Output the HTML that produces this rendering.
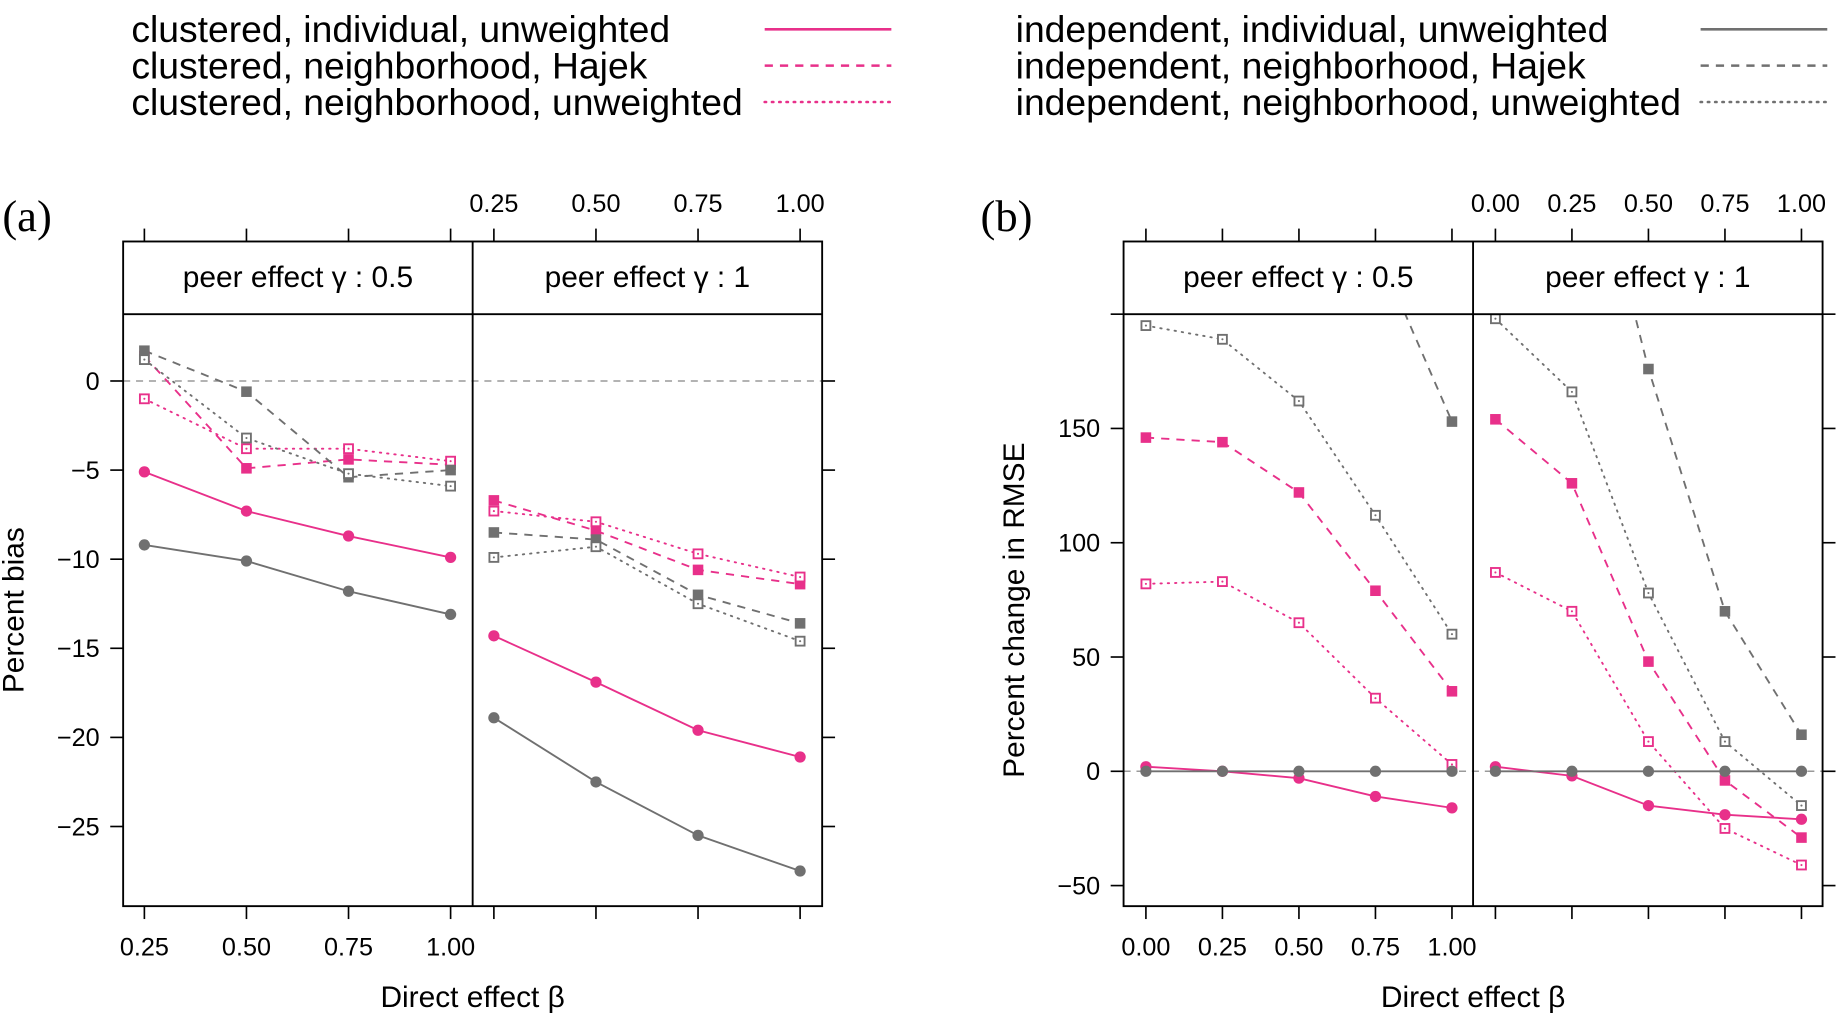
<!DOCTYPE html>
<html><head><meta charset="utf-8">
<style>
html,body{margin:0;padding:0;background:#fff;}
svg{display:block;}
text{font-family:"Liberation Sans",sans-serif;fill:#000;}
</style></head>
<body>
<svg id="fig" width="1839" height="1014" viewBox="0 0 1568 865" preserveAspectRatio="none" xmlns="http://www.w3.org/2000/svg">
<g id="legend"></g>
<g id="pa"></g>
<g id="pb"></g>
</svg>
<script>
// ---- data ----
const seriesNames = ["clustered, individual, unweighted","clustered, neighborhood, Hajek","clustered, neighborhood, unweighted","independent, individual, unweighted","independent, neighborhood, Hajek","independent, neighborhood, unweighted"];
const xA = [0.25,0.5,0.75,1.0];
const xB = [0,0.25,0.5,0.75,1.0];
const tickA = ["0.25","0.50","0.75","1.00"];
const tickB = ["0.00","0.25","0.50","0.75","1.00"];
const yTicksA = [0,-5,-10,-15,-20,-25];
const yTicksB = [200,150,100,50,0,-50];
// bias, gamma 0.5
const biasG05_clInd = [-5.1,-7.3,-8.7,-9.9];
const biasG05_clHaj = [1.4,-4.9,-4.4,-4.7];
const biasG05_clUnw = [-1.0,-3.8,-3.8,-4.5];
const biasG05_inInd = [-9.2,-10.1,-11.8,-13.1];
const biasG05_inHaj = [1.7,-0.6,-5.4,-5.0];
const biasG05_inUnw = [1.2,-3.2,-5.2,-5.9];
// bias, gamma 1
const biasG1_clInd = [-14.3,-16.9,-19.6,-21.1];
const biasG1_clHaj = [-6.7,-8.4,-10.6,-11.4];
const biasG1_clUnw = [-7.3,-7.9,-9.7,-11.0];
const biasG1_inInd = [-18.9,-22.5,-25.5,-27.5];
const biasG1_inHaj = [-8.5,-8.9,-12.0,-13.6];
const biasG1_inUnw = [-9.9,-9.3,-12.5,-14.6];
// RMSE change, gamma 0.5
const rmseG05_clInd = [2,0,-3,-11,-16];
const rmseG05_clHaj = [146,144,122,79,35];
const rmseG05_clUnw = [82,83,65,32,3];
const rmseG05_inInd = [0,0,0,0,0];
const rmseG05_inHaj = [420,360,300,230,153];
const rmseG05_inUnw = [195,189,162,112,60];
// RMSE change, gamma 1
const rmseG1_clInd = [2,-2,-15,-19,-21];
const rmseG1_clHaj = [154,126,48,-4,-29];
const rmseG1_clUnw = [87,70,13,-25,-41];
const rmseG1_inInd = [0,0,0,0,0];
const rmseG1_inHaj = [450,309,176,70,16];
const rmseG1_inUnw = [198,166,78,13,-15];

const PINK="#e8308a", GREY="#707070";
const styles=[
 {c:PINK,d:"",m:"circle"},{c:PINK,d:"7 6",m:"fsq"},{c:PINK,d:"1.2 5",m:"osq"},
 {c:GREY,d:"",m:"circle"},{c:GREY,d:"7 6",m:"fsq"},{c:GREY,d:"1.2 5",m:"osq"}];
const NS="http://www.w3.org/2000/svg";
function el(tag,attrs,parent){const e=document.createElementNS(NS,tag);for(const k in attrs)e.setAttribute(k,attrs[k]);parent.appendChild(e);return e;}
function txt(s,attrs,parent){const t=el("text",attrs,parent);t.textContent=s;return t;}

// ---- legend ----
const lg=document.getElementById("legend");
seriesNames.forEach((n,i)=>{
  const col=Math.floor(i/3), row=i%3;
  const tx=col?866:112, lx1=col?1450:652, lx2=col?1558:760;
  const t=txt(n,{x:tx,y:36+row*31,"font-size":31.8},lg);
  
  
  const st=styles[i];
  const l=el("line",{x1:lx1,x2:lx2,y1:25+row*31,y2:25+row*31,stroke:st.c,"stroke-width":2.2,"stroke-dasharray":st.d,"stroke-linecap":st.d.startsWith("1.2")?"round":"butt"},lg);
  
  
});

function marker(g,m,c,x,y){
  let e;
  if(m==="circle"){e=el("circle",{cx:x,cy:y,r:4.8,fill:c},g);}
  else if(m==="fsq"){e=el("rect",{x:x-4.5,y:y-4.5,width:9,height:9,fill:c},g);}
  else{e=el("rect",{x:x-3.8,y:y-3.8,width:7.6,height:7.6,fill:"#fff",stroke:c,"stroke-width":1.6},g);
       el("circle",{cx:x,cy:y,r:0.9,fill:c},g);}
  
  
}

function panel(g,cfg){
  const {L,M,R,T,S,B,x0,x1,y0,y1,xs,xt,yt,ylab,d1,d2,letter,letterX,clip}=cfg;
  const sx1=v=>L+(v-x0)/(x1-x0)*(M-L);
  const sx2=v=>M+(v-x0)/(x1-x0)*(R-M);
  const sy=v=>S+(y0-v)/(y0-y1)*(B-S);
  txt(letter,{x:letterX,y:197,"font-size":38,style:"font-family:'Liberation Serif',serif"},g);
  const cp=el("clipPath",{id:clip},g);
  el("rect",{x:L,y:S,width:R-L,height:B-S},cp);
  el("line",{x1:L,x2:R,y1:sy(0),y2:sy(0),stroke:"#9a9a9a","stroke-width":1.3,"stroke-dasharray":"6 5"},g);
  [[sx1,d1],[sx2,d2]].forEach(([sx,ds])=>{
    const sg=el("g",{"clip-path":`url(#${clip})`},g);
    ds.forEach((arr,i)=>{
      const st=styles[i];
      const p=el("polyline",{points:arr.map((v,j)=>sx(xs[j])+","+sy(v)).join(" "),fill:"none",stroke:st.c,"stroke-width":1.6,"stroke-dasharray":st.d,"stroke-linecap":st.d.startsWith("1.2")?"round":"butt"},sg);
      
      
    });
    ds.forEach((arr,i)=>{arr.forEach((v,j)=>{ if(v<=y0+1) marker(sg,styles[i].m,styles[i].c,sx(xs[j]),sy(v)); });});
  });
  el("rect",{x:L,y:T,width:R-L,height:B-T,fill:"none",stroke:"#000","stroke-width":1.6},g);
  el("line",{x1:L,x2:R,y1:S,y2:S,stroke:"#000","stroke-width":1.6},g);
  el("line",{x1:M,x2:M,y1:T,y2:B,stroke:"#000","stroke-width":1.6},g);
  txt("peer effect γ : 0.5",{x:(L+M)/2,y:S-23,"font-size":25.5,"text-anchor":"middle"},g);
  txt("peer effect γ : 1",{x:(M+R)/2,y:S-23,"font-size":25.5,"text-anchor":"middle"},g);
  xs.forEach((v,j)=>{
    [sx1(v),sx2(v)].forEach((x,k)=>{
      el("line",{x1:x,x2:x,y1:T,y2:T-11,stroke:"#000","stroke-width":1.4},g);
      el("line",{x1:x,x2:x,y1:B,y2:B+11,stroke:"#000","stroke-width":1.4},g);
    });
    txt(xt[j],{x:sx1(v),y:B+42,"font-size":21.5,"text-anchor":"middle"},g);
    txt(xt[j],{x:sx2(v),y:T-25,"font-size":21.5,"text-anchor":"middle"},g);
  });
  yt.forEach(v=>{
    const y=sy(v);
    el("line",{x1:L-11,x2:L,y1:y,y2:y,stroke:"#000","stroke-width":1.4},g);
    el("line",{x1:R,x2:R+11,y1:y,y2:y,stroke:"#000","stroke-width":1.4},g);
    if(y>S+5) txt(String(v).replace("-","−"),{x:L-20,y:y+7.5,"font-size":21.5,"text-anchor":"end"},g);
  });
  txt("Direct effect β",{x:M,y:859,"font-size":25.5,"text-anchor":"middle"},g);
  txt(ylab,{x:0,y:0,"font-size":25.5,"text-anchor":"middle",transform:`translate(${cfg.ylabX},${(S+B)/2}) rotate(-90)`},g);
}

panel(document.getElementById("pa"),{L:105,M:403,R:701,T:206,S:268,B:773,x0:0.198,x1:1.054,y0:3.75,y1:-29.47,
  xs:xA,xt:tickA,yt:yTicksA,ylab:"Percent bias",ylabX:20,letter:"(a)",letterX:2,clip:"ca",
  d1:[biasG05_clInd,biasG05_clHaj,biasG05_clUnw,biasG05_inInd,biasG05_inHaj,biasG05_inUnw],
  d2:[biasG1_clInd,biasG1_clHaj,biasG1_clUnw,biasG1_inInd,biasG1_inHaj,biasG1_inUnw]});
panel(document.getElementById("pb"),{L:958,M:1256,R:1554,T:206,S:268,B:773,x0:-0.073,x1:1.069,y0:200,y1:-59,
  xs:xB,xt:tickB,yt:yTicksB,ylab:"Percent change in RMSE",ylabX:873,letter:"(b)",letterX:836,clip:"cb",
  d1:[rmseG05_clInd,rmseG05_clHaj,rmseG05_clUnw,rmseG05_inInd,rmseG05_inHaj,rmseG05_inUnw],
  d2:[rmseG1_clInd,rmseG1_clHaj,rmseG1_clUnw,rmseG1_inInd,rmseG1_inHaj,rmseG1_inUnw]});
</script>
</body></html>
